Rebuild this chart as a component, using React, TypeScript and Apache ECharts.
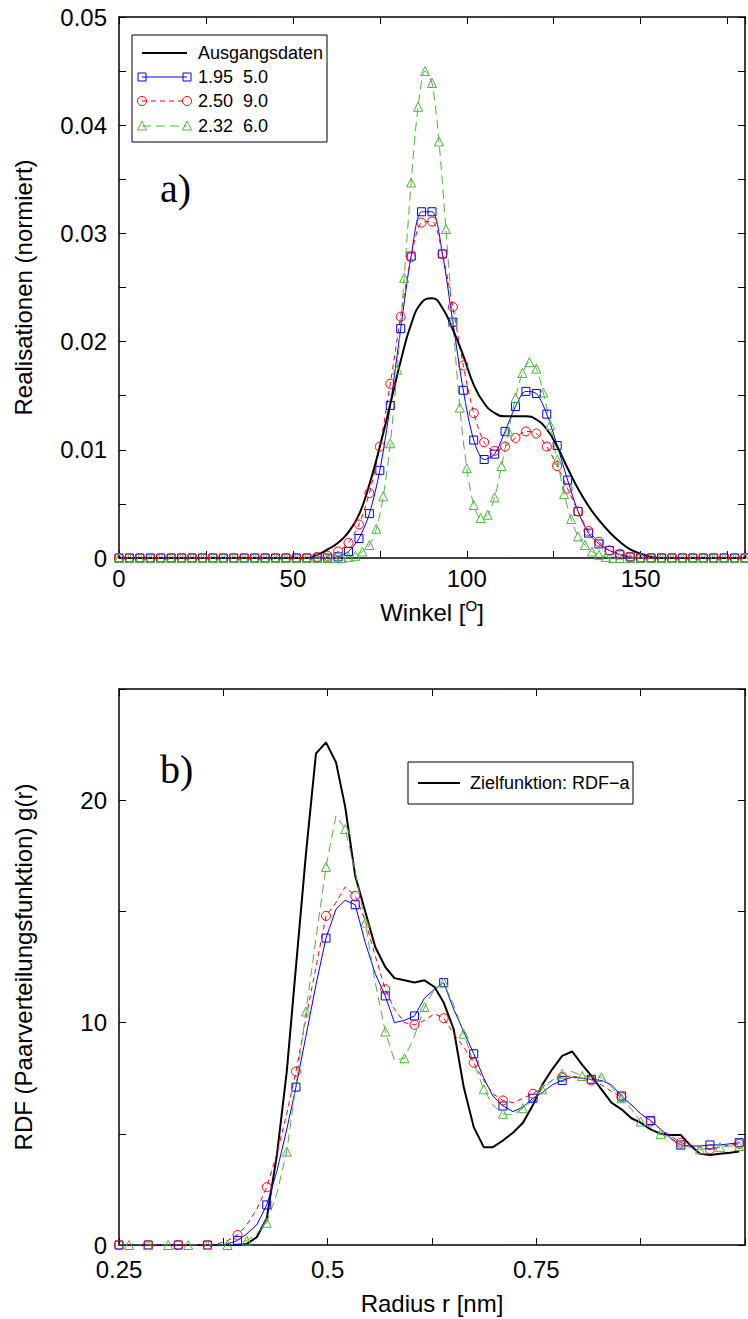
import React, { useEffect, useRef } from "react";
import * as echarts from "echarts";

// ---------- Top chart (a): angle distribution ----------
const angles = [0,3,6,9,12,15,18,21,24,27,30,33,36,39,42,45,48,51,54,57,60,63,66,69,72,75,78,81,84,87,90,93,96,99,102,105,108,111,114,117,120,123,126,129,132,135,138,141,144,147,150,153,156,159,162,165,168,171,174,177,180];

const ausgangsdaten = [0,0,0,0,0,0,0,0,0,0,0,0,0,0,0,0,0,0,0,
  0.0003,0.0008,0.0014,0.0024,0.0040,0.0068,0.0103,0.0142,0.0182,0.0216,0.0236,0.0240,0.0231,0.0211,0.0187,0.0160,0.0143,0.0134,0.0131,0.0131,0.0131,0.0128,0.0119,0.0103,0.0083,0.0064,0.0048,0.0035,0.0024,0.0015,0.0008,0.0004,0.0001,
  0,0,0,0,0,0,0,0,0];

const blue195 = [0,0,0,0,0,0,0,0,0,0,0,0,0,0,0,0,0,0,0,0,0,
  0.0001,0.0006,0.0018,0.0041,0.0081,0.0141,0.0212,0.0279,0.0320,0.0320,0.0281,0.0218,0.0155,0.0109,0.0091,0.0096,0.0117,0.0140,0.0154,0.0152,0.0133,0.0104,0.0072,0.0043,0.0023,0.0013,0.0007,0.0003,0.0001,
  0,0,0,0,0,0,0,0,0,0,0];

const red250 = [0,0,0,0,0,0,0,0,0,0,0,0,0,0,0,0,0,0,0,
  0.0001,0.0002,0.0006,0.0014,0.0031,0.0060,0.0103,0.0161,0.0223,0.0278,0.0310,0.0311,0.0281,0.0232,0.0178,0.0134,0.0107,0.0099,0.0103,0.0111,0.0117,0.0115,0.0103,0.0085,0.0064,0.0043,0.0025,0.0015,0.0007,0.0004,0.0001,
  0,0,0,0,0,0,0,0,0,0,0];

const greenAngles = [0,3,6,9,12,15,18,21,24,27,30,33,36,39,42,45,48,51,54,57,
  60,62,64,66,68,70,72,74,76,78,80,82,84,86,88,90,92,94,96,98,100,102,104,106,108,110,112,114,116,118,120,122,124,126,128,130,132,134,136,138,140,142,144,
  147,150,153,156,159,162,165,168,171,174,177,180];

const green232 = [0,0,0,0,0,0,0,0,0,0,0,0,0,0,0,0,0,0,0,0,
  0,0,0,0.0001,0.0002,0.0006,0.0012,0.0027,0.0057,0.0106,0.0174,0.0259,0.0347,0.0417,0.0450,0.0439,0.0385,0.0304,0.0219,0.0139,0.0083,0.0049,0.0037,0.0040,0.0056,0.0085,0.0117,0.0148,0.0171,0.0181,0.0175,0.0153,0.0123,0.0091,0.0059,0.0036,0.0020,0.0012,0.0006,0.0003,0.0001,0,0,
  0,0,0,0,0,0,0,0,0,0,0,0];

// ---------- Bottom chart (b): RDF ----------
const radius = [0.250,0.262,0.274,0.285,0.297,0.309,0.321,0.333,0.344,0.356,0.368,0.380,0.392,0.403,0.415,0.427,0.439,0.451,0.462,0.474,0.486,0.498,0.510,0.521,0.533,0.545,0.557,0.569,0.580,0.592,0.604,0.616,0.628,0.639,0.651,0.663,0.675,0.687,0.698,0.710,0.722,0.734,0.746,0.757,0.769,0.781,0.793,0.805,0.816,0.828,0.840,0.852,0.864,0.875,0.887,0.899,0.911,0.923,0.934,0.946,0.958,0.970,0.982,0.993];

const zielRDF = [0,0,0,0,0,0,0,0,0,0,0,0,0,
  0.05,0.35,1.2,4.0,7.8,12.5,17.6,22.1,22.6,21.7,19.7,16.6,15.0,13.4,12.5,12.0,11.9,11.8,11.9,11.6,10.9,9.7,7.1,5.3,4.4,4.4,4.7,5.05,5.5,6.3,7.2,7.9,8.5,8.7,8.1,7.6,7.0,6.4,6.1,5.7,5.5,5.2,5.0,4.95,4.95,4.5,4.1,4.05,4.1,4.15,4.2];

const rdfBlue = [0,0,0,0,0,0,0,0,0,0,0,0.05,
  0.2,0.5,0.9,1.8,3.3,5.2,7.1,9.4,11.7,13.8,15.1,15.5,15.3,13.6,12.2,11.2,10.0,10.1,10.3,11.1,11.5,11.8,10.6,9.6,8.6,7.5,6.7,6.25,6.0,6.2,6.6,6.85,7.2,7.4,7.55,7.5,7.45,7.4,7.2,6.7,6.3,5.9,5.6,5.2,4.8,4.5,4.45,4.45,4.5,4.5,4.55,4.6];

const rdfRed = [0,0,0,0,0,0,0,0,0,0,0.05,0.2,
  0.45,0.9,1.6,2.6,4.1,5.9,7.8,10.2,12.5,14.8,15.4,16.1,15.7,14.6,13.0,11.5,10.6,10.0,9.9,10.1,10.4,10.2,9.5,8.9,8.2,7.4,6.8,6.5,6.4,6.6,6.8,7.1,7.4,7.55,7.6,7.5,7.4,7.2,6.9,6.65,6.3,5.9,5.55,5.2,4.9,4.6,4.5,4.4,4.3,4.4,4.5,4.55];

const rdfGreen = [0,0,0,0,0,0,0,0,0,0,0,0,
  0.05,0.2,0.5,1.0,2.3,4.2,7.2,10.5,13.8,17.0,19.3,18.7,16.8,14.5,11.8,9.6,8.3,8.4,9.4,10.7,11.5,11.8,10.8,9.5,8.2,7.0,6.3,5.9,5.85,6.15,6.5,7.0,7.4,7.7,7.8,7.6,7.55,7.55,7.1,6.6,6.1,5.55,5.25,5.0,4.75,4.5,4.4,4.3,4.35,4.4,4.45,4.45];

const legendTop = ["Ausgangsdaten", "1.95  5.0", "2.50  9.0", "2.32  6.0"];
const legendBottom = ["Zielfunktion: RDF\u2212a"];

const BLUE = "#0000ff";
const RED = "#ff0000";
const GREEN = "#4fb43f";
const FONT = "'Liberation Sans', Arial, Helvetica, sans-serif";

const zip = (xs: number[], ys: number[]) => xs.map((x, i) => [x, ys[i]]);

function axisCommon(showLabel: boolean) {
  return {
    axisLine: { show: true, onZero: false, lineStyle: { color: "#000", width: 1.5 } },
    axisTick: { show: true, inside: true, length: 7, lineStyle: { color: "#000", width: 1 } },
    splitLine: { show: false },
    axisLabel: { show: showLabel, color: "#000", fontSize: 24, lineHeight: 22, fontFamily: FONT },
  };
}

function buildOption() {
  const near = (v: number, step: number) => Math.abs(v / step - Math.round(v / step)) < 1e-6;
  const hollow = (c: string) => ({ color: "rgba(0,0,0,0)", borderColor: c, borderWidth: 1 });

  const xAxis = [
    {
      gridIndex: 0, type: "value", min: 0, max: 180, interval: 25, position: "bottom",
      ...axisCommon(true),
      axisLabel: { ...axisCommon(true).axisLabel, margin: 9, formatter: (v: number) => (near(v, 50) ? String(v) : "") },
      name: "Winkel [{sup|O}]", nameLocation: "middle", nameGap: 40,
      nameTextStyle: { color: "#000", fontSize: 24, fontFamily: FONT, rich: { sup: { fontSize: 15, fontFamily: FONT, color: "#000", padding: [0, 0, 14, 0] } } },
    },
    { gridIndex: 0, type: "value", min: 0, max: 180, interval: 25, position: "top", ...axisCommon(false) },
    {
      gridIndex: 1, type: "value", min: 0.25, max: 1.0, interval: 0.125, position: "bottom",
      ...axisCommon(true),
      axisLabel: { ...axisCommon(true).axisLabel, margin: 13, formatter: (v: number) => (near(v, 0.25) && v < 0.99 ? String(+v.toFixed(2)) : "") },
      name: "Radius r [nm]", nameLocation: "middle", nameGap: 46,
      nameTextStyle: { color: "#000", fontSize: 24, fontFamily: FONT },
    },
    { gridIndex: 1, type: "value", min: 0.25, max: 1.0, interval: 0.125, position: "top", ...axisCommon(false) },
  ];

  const yAxis = [
    {
      gridIndex: 0, type: "value", min: 0, max: 0.05, interval: 0.005, position: "left",
      ...axisCommon(true),
      axisLabel: { ...axisCommon(true).axisLabel, margin: 12, formatter: (v: number) => (near(v, 0.01) ? (Math.abs(v) < 1e-9 ? "0" : v.toFixed(2)) : "") },
      name: "Realisationen (normiert)", nameLocation: "middle", nameGap: 84,
      nameTextStyle: { color: "#000", fontSize: 24, fontFamily: FONT },
    },
    { gridIndex: 0, type: "value", min: 0, max: 0.05, interval: 0.005, position: "right", ...axisCommon(false) },
    {
      gridIndex: 1, type: "value", min: 0, max: 25, interval: 5, position: "left",
      ...axisCommon(true),
      axisLabel: { ...axisCommon(true).axisLabel, margin: 12, formatter: (v: number) => (near(v, 10) ? String(v) : "") },
      name: "RDF (Paarverteilungsfunktion) g(r)", nameLocation: "middle", nameGap: 84,
      nameTextStyle: { color: "#000", fontSize: 24, fontFamily: FONT },
    },
    { gridIndex: 1, type: "value", min: 0, max: 25, interval: 5, position: "right", ...axisCommon(false) },
  ];

  const series: any[] = [
    {
      type: "line", xAxisIndex: 0, yAxisIndex: 0, data: zip(angles, blue195), smooth: 0.3,
      symbol: "rect", symbolSize: 8, itemStyle: hollow(BLUE), lineStyle: { color: BLUE, width: 1 },
    },
    {
      type: "line", xAxisIndex: 0, yAxisIndex: 0, data: zip(angles, red250), smooth: 0.3,
      symbol: "circle", symbolSize: 9, itemStyle: hollow(RED), lineStyle: { color: RED, width: 1, type: [5, 4] },
    },
    {
      type: "line", xAxisIndex: 0, yAxisIndex: 0, data: zip(greenAngles, green232), smooth: 0.3,
      symbol: "triangle", symbolSize: 9, itemStyle: hollow(GREEN), lineStyle: { color: GREEN, width: 1, type: [9, 5] },
    },
    {
      type: "line", xAxisIndex: 0, yAxisIndex: 0, data: zip(angles, ausgangsdaten), smooth: 0.5,
      symbol: "none", lineStyle: { color: "#000", width: 2 },
    },
    {
      type: "line", xAxisIndex: 2, yAxisIndex: 2, data: zip(radius, zielRDF),
      symbol: "none", lineStyle: { color: "#000", width: 2 },
    },
    {
      type: "line", xAxisIndex: 2, yAxisIndex: 2, data: zip(radius, rdfBlue),
      symbol: (_v: any, p: any) => (p.dataIndex % 3 === 0 ? "rect" : "none"), symbolSize: 8,
      itemStyle: hollow(BLUE), lineStyle: { color: BLUE, width: 1 },
    },
    {
      type: "line", xAxisIndex: 2, yAxisIndex: 2, data: zip(radius, rdfRed),
      symbol: (_v: any, p: any) => (p.dataIndex % 3 === 0 ? "circle" : "none"), symbolSize: 9,
      itemStyle: hollow(RED), lineStyle: { color: RED, width: 1, type: [5, 4] },
    },
    {
      type: "line", xAxisIndex: 2, yAxisIndex: 2, data: zip(radius, rdfGreen),
      symbol: (_v: any, p: any) => (p.dataIndex % 2 === 1 ? "triangle" : "none"), symbolSize: 9,
      itemStyle: hollow(GREEN), lineStyle: { color: GREEN, width: 1, type: [9, 5] },
    },
  ];

  // legend drawn with graphics (markers at both ends of the sample line)
  const lx1 = 142, lx2 = 187, tx = 198;
  const rows = [53, 77, 101, 126];
  const g: any[] = [
    { type: "rect", shape: { x: 132, y: 35, width: 195, height: 107 }, style: { fill: "#fff", stroke: "#000", lineWidth: 1 }, z: 10 },
  ];
  const lineStyles = [
    { stroke: "#000", lineWidth: 2 },
    { stroke: BLUE, lineWidth: 1 },
    { stroke: RED, lineWidth: 1, lineDash: [5, 4] },
    { stroke: GREEN, lineWidth: 1, lineDash: [9, 5] },
  ];
  rows.forEach((y, i) => {
    g.push({ type: "line", shape: { x1: lx1, y1: y, x2: lx2, y2: y }, style: lineStyles[i], z: 11 });
    [lx1, lx2].forEach((cx) => {
      if (i === 1) g.push({ type: "rect", shape: { x: cx - 4, y: y - 4, width: 8, height: 8 }, style: { fill: "none", stroke: BLUE, lineWidth: 1 }, z: 12 });
      if (i === 2) g.push({ type: "circle", shape: { cx, cy: y, r: 4.5 }, style: { fill: "none", stroke: RED, lineWidth: 1 }, z: 12 });
      if (i === 3) g.push({ type: "polygon", shape: { points: [[cx, y - 5], [cx - 4.5, y + 4], [cx + 4.5, y + 4]] }, style: { fill: "none", stroke: GREEN, lineWidth: 1 }, z: 12 });
    });
    g.push({ type: "text", x: tx, y, style: { text: legendTop[i], fontSize: 18, fontFamily: FONT, fill: "#000", textVerticalAlign: "middle" }, z: 12 });
  });
  g.push({ type: "rect", shape: { x: 408, y: 762, width: 225, height: 42 }, style: { fill: "#fff", stroke: "#000", lineWidth: 1 }, z: 10 });
  g.push({ type: "line", shape: { x1: 418, y1: 783, x2: 460, y2: 783 }, style: { stroke: "#000", lineWidth: 2 }, z: 11 });
  g.push({ type: "text", x: 470, y: 783, style: { text: legendBottom[0], fontSize: 18, fontFamily: FONT, fill: "#000", textVerticalAlign: "middle" }, z: 12 });
  g.push({ type: "text", x: 160, y: 188, style: { text: "a)", fontSize: 40, fontFamily: "'Liberation Serif', 'Times New Roman', serif", fill: "#000", textVerticalAlign: "middle" }, z: 12 });
  g.push({ type: "text", x: 160, y: 769, style: { text: "b)", fontSize: 40, fontFamily: "'Liberation Serif', 'Times New Roman', serif", fill: "#000", textVerticalAlign: "middle" }, z: 12 });

  return {
    animation: false,
    backgroundColor: "#fff",
    textStyle: { fontFamily: FONT },
    grid: [
      { left: 119, top: 17, width: 626, height: 541 },
      { left: 119, top: 689, width: 633, height: 556 },
    ],
    xAxis,
    yAxis,
    series,
    graphic: g,
  };
}

export default function App() {
  const ref = useRef<HTMLDivElement>(null);
  useEffect(() => {
    if (!ref.current) return;
    const chart = echarts.init(ref.current, null, { renderer: "svg" });
    chart.setOption(buildOption() as any);
    return () => chart.dispose();
  }, []);
  return (
    <div
      ref={ref}
      style={{ position: "fixed", left: 0, top: 0, width: 748, height: 1319, background: "#fff" }}
    />
  );
}
